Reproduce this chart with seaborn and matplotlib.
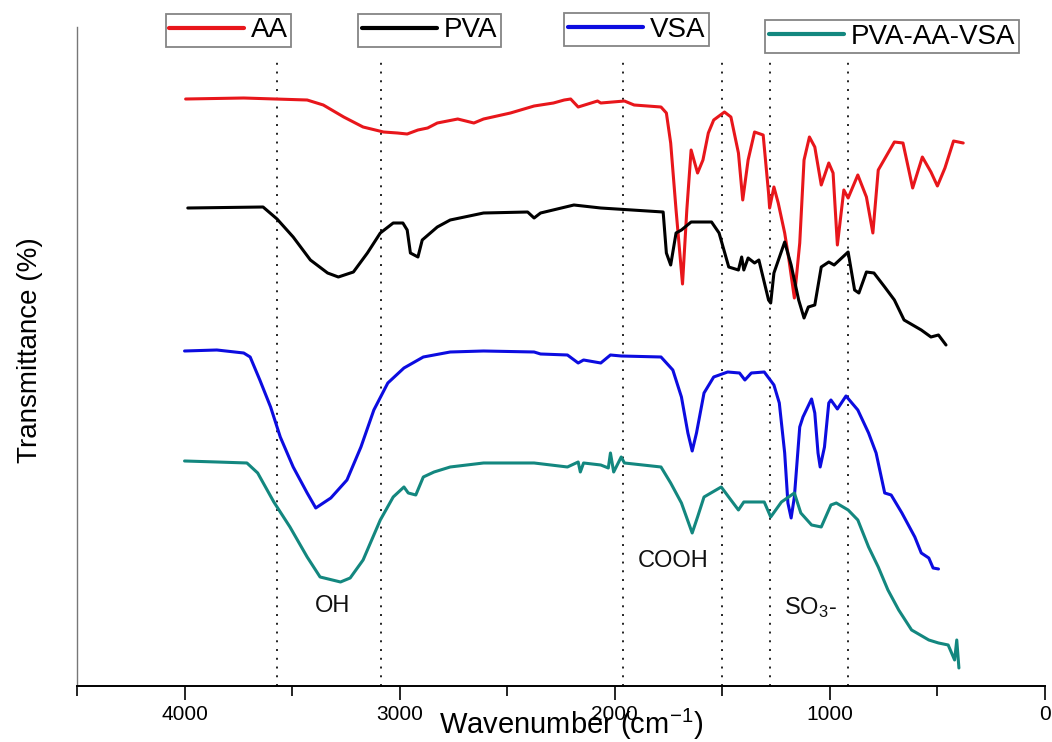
import matplotlib
matplotlib.use("Agg")
import matplotlib.pyplot as plt
from matplotlib.ticker import MultipleLocator
from matplotlib.lines import Line2D
import seaborn as sns
import pandas as pd

# ---------------- data (wavenumber cm-1, transmittance a.u.) ----------------
aa_wn = [3995, 3725, 3430, 3355, 3260, 3170, 3075, 3010, 2965, 2915, 2870, 2825, 2730, 2655,
         2610, 2485, 2375, 2285, 2235, 2205, 2170, 2080, 2065, 1955, 1910, 1785, 1760, 1740,
         1715, 1685, 1665, 1645, 1615, 1590, 1565, 1540, 1490, 1460, 1425, 1405, 1380, 1350,
         1310, 1285, 1280, 1260, 1240, 1210, 1190, 1165, 1140, 1120, 1095, 1070, 1040, 1005,
         985, 965, 935, 915, 870, 830, 800, 775, 700, 660, 615, 570, 530, 500, 465, 425, 380]
aa_t = [587, 588, 586, 581, 569, 559, 554, 553, 552, 556, 558, 563, 567, 563,
        567, 573, 580, 583, 586, 587, 579, 585, 583, 585, 581, 579, 573, 543,
        476, 402, 476, 536, 513, 526, 553, 566, 574, 569, 533, 486, 526, 554,
        551, 493, 478, 499, 483, 453, 426, 388, 443, 526, 549, 539, 501, 523,
        513, 441, 496, 488, 511, 489, 453, 516, 544, 543, 498, 529, 514, 500, 518, 545, 543]

pva_wn = [3985, 3635, 3570, 3495, 3415, 3335, 3285, 3215, 3150, 3090, 3030, 2985, 2965, 2950,
          2915, 2895, 2825, 2765, 2610, 2405, 2375, 2345, 2190, 2065, 1775, 1760, 1740, 1715,
          1690, 1645, 1550, 1515, 1470, 1425, 1410, 1400, 1380, 1350, 1330, 1285, 1275, 1260,
          1210, 1180, 1145, 1120, 1100, 1070, 1040, 1005, 980, 915, 885, 865, 830, 795, 745,
          700, 655, 575, 530, 495, 460]
pva_t = [478, 479, 467, 449, 426, 413, 409, 414, 433, 453, 463, 463, 456, 433,
         429, 446, 459, 466, 473, 474, 468, 473, 481, 478, 474, 433, 421, 453,
         456, 464, 464, 453, 419, 416, 429, 416, 428, 423, 426, 386, 383, 413,
         444, 421, 386, 368, 379, 381, 419, 424, 421, 434, 396, 393, 414, 413, 399,
         386, 366, 356, 349, 351, 341]

vsa_wn = [4000, 3850, 3725, 3695, 3650, 3600, 3555, 3495, 3430, 3390, 3320, 3245, 3180, 3120,
          3055, 2980, 2890, 2765, 2610, 2375, 2345, 2220, 2170, 2145, 2065, 2020, 1970, 1785,
          1730, 1690, 1660, 1640, 1620, 1585, 1540, 1475, 1420, 1395, 1365, 1305, 1260, 1235,
          1210, 1195, 1180, 1165, 1140, 1125, 1085, 1070, 1055, 1045, 1025, 1005, 995, 965,
          925, 870, 820, 785, 745, 715, 665, 605, 575, 540, 520, 495]
vsa_t = [335, 336, 333, 329, 306, 279, 249, 219, 193, 178, 188, 206, 239, 276,
         303, 318, 329, 334, 335, 334, 332, 331, 323, 326, 323, 331, 330, 329,
         316, 289, 253, 235, 253, 293, 309, 314, 313, 306, 313, 314, 301, 283,
         233, 183, 168, 189, 259, 269, 287, 273, 233, 219, 239, 283, 286, 277,
         290, 276, 253, 233, 193, 191, 173, 149, 133, 128, 118, 117]

blend_wn = [4000, 3850, 3710, 3660, 3585, 3510, 3430, 3370, 3275, 3230, 3170, 3090, 3030, 2980,
            2960, 2925, 2890, 2840, 2765, 2610, 2375, 2220, 2170, 2160, 2145, 2065, 2030, 2020,
            2005, 1970, 1955, 1785, 1740, 1690, 1640, 1615, 1585, 1505, 1460, 1425, 1400, 1305,
            1275, 1225, 1165, 1135, 1085, 1040, 995, 970, 915, 870, 820, 775, 730, 680, 620,
            540, 495, 450, 420, 410, 400]
blend_t = [225, 224, 223, 213, 184, 159, 129, 109, 104, 108, 126, 166, 189, 199,
           193, 191, 209, 214, 219, 223, 223, 219, 224, 214, 223, 221, 218, 233,
           214, 229, 223, 219, 203, 183, 153, 169, 189, 199, 186, 176, 184, 184,
           169, 184, 193, 173, 161, 159, 181, 183, 176, 166, 139, 119, 96, 76, 56,
           46, 43, 41, 26, 46, 18]

series_names = ["AA", "PVA", "VSA", "PVA-AA-VSA"]
series_colors = ["#e8161b", "#000000", "#0c0ce0", "#13877f"]

band_positions = [3570, 3085, 1960, 1500, 1280, 915]
band_labels = ["OH", "COOH", "SO$_3$-"]
band_label_wn = [3310, 1730, 1215]
band_label_t = [80, 125, 78]

x_ticks = [4000, 3000, 2000, 1000, 0]

# ---------------- plotting ----------------
sns.set_theme(style="white")
plt.rcParams["font.family"] = ["Liberation Sans", "DejaVu Sans"]
plt.rcParams["mathtext.default"] = "regular"
plt.rcParams["text.color"] = "black"
plt.rcParams["axes.labelcolor"] = "black"
plt.rcParams["xtick.color"] = "black"

fig = plt.figure(figsize=(10.52, 7.42), dpi=100)
ax = fig.add_axes([0.0732, 0.0755, 0.9933 - 0.0732, 0.9636 - 0.0755])

frames = []
for name, wn, t in [("AA", aa_wn, aa_t), ("PVA", pva_wn, pva_t),
                    ("VSA", vsa_wn, vsa_t), ("PVA-AA-VSA", blend_wn, blend_t)]:
    frames.append(pd.DataFrame({"wn": wn, "t": t, "sample": name}))
df = pd.concat(frames, ignore_index=True)

for name, col in zip(series_names, series_colors):
    sub = df[df["sample"] == name]
    sns.lineplot(data=sub, x="wn", y="t", color=col, lw=2.2, ax=ax,
                 estimator=None, sort=False, legend=False)

ax.vlines(band_positions, 0, 626, colors="#222222", linestyles=(0, (1, 3.5)), lw=1.4, zorder=0)

for lab, x, y in zip(band_labels, band_label_wn, band_label_t):
    ha = "left" if lab.startswith("SO") else "center"
    ax.text(x, y, lab, fontsize=17, ha=ha, va="center", color="#111111")

ax.set_xlim(4500, 0)
ax.set_ylim(0, 659)
ax.set_xticks(x_ticks)
ax.set_xticklabels([str(v) for v in x_ticks], fontsize=15)
ax.xaxis.set_minor_locator(MultipleLocator(500))
ax.tick_params(axis="x", which="major", direction="out", length=10, width=1.2, bottom=True, pad=4,
               colors="black")
ax.tick_params(axis="x", which="minor", direction="out", length=7, width=1.2, bottom=True,
               colors="black")
ax.set_yticks([])

for s in ["top", "right"]:
    ax.spines[s].set_visible(False)
ax.spines["bottom"].set_color("black")
ax.spines["bottom"].set_linewidth(1.4)
ax.spines["left"].set_color("#777777")
ax.spines["left"].set_linewidth(1.0)

ax.set_xlabel("Wavenumber (cm$^{-1}$)", fontsize=21, color="black")
ax.xaxis.set_label_coords(0.510, -0.059)
ax.xaxis.label.set_verticalalignment("center")
ax.set_ylabel("Transmittance (%)", fontsize=20, color="black")
ax.yaxis.set_label_coords(-0.0486, 0.51)
ax.yaxis.label.set_verticalalignment("center")

legend_centers = [(0.2172, 0.9589), (0.4083, 0.9589), (0.6050, 0.9602), (0.8479, 0.9508)]
for name, col, c in zip(series_names, series_colors, legend_centers):
    h = Line2D([], [], color=col, lw=3)
    leg = fig.legend([h], [name], loc="center", bbox_to_anchor=c, fontsize=20,
                     frameon=True, fancybox=False, handlelength=2.7, handletextpad=0.25,
                     borderpad=0.12, borderaxespad=0, labelcolor="black")
    leg.get_frame().set_edgecolor("#666666")
    leg.get_frame().set_linewidth(1.3)

fig.savefig("out.png", dpi=100)
